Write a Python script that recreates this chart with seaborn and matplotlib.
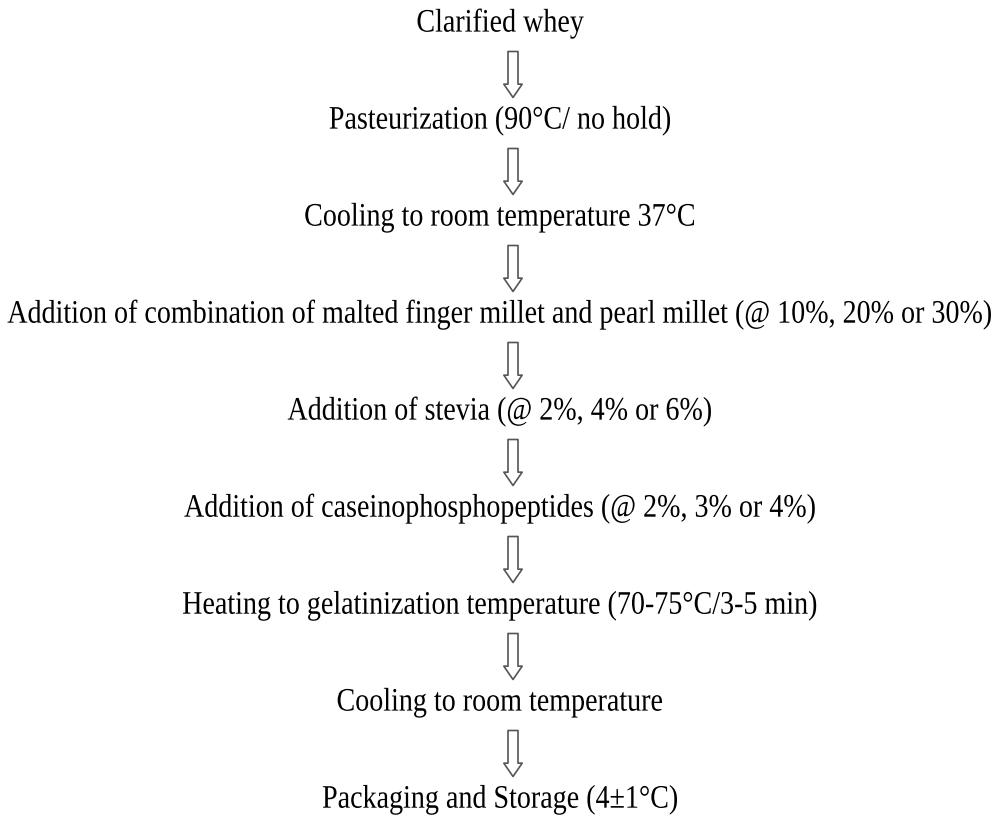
import matplotlib
matplotlib.use("Agg")
import matplotlib.pyplot as plt
import seaborn as sns
from matplotlib.patheffects import AbstractPathEffect
from matplotlib.transforms import Affine2D

# process steps, top to bottom
steps = [
    "Clarified whey",
    "Pasteurization (90\u00b0C/ no hold)",
    "Cooling to room temperature 37\u00b0C",
    "Addition of combination of malted finger millet and pearl millet (@ 10%, 20% or 30%)",
    "Addition of stevia (@ 2%, 4% or 6%)",
    "Addition of caseinophosphopeptides (@ 2%, 3% or 4%)",
    "Heating to gelatinization temperature (70-75\u00b0C/3-5 min)",
    "Cooling to room temperature",
    "Packaging and Storage (4\u00b11\u00b0C)",
]


# the original font looks condensed, so stretch glyphs vertically a bit
class VStretch(AbstractPathEffect):
    def __init__(self, cy, sy):
        super().__init__()
        self.cy = cy
        self.sy = sy

    def draw_path(self, renderer, gc, tpath, affine, rgbFace=None):
        a = affine + Affine2D().translate(0, -self.cy).scale(1, self.sy).translate(0, self.cy)
        renderer.draw_path(gc, tpath, a, rgbFace)


sns.set_theme(style="white")
plt.rcParams['font.family'] = ['Liberation Serif', 'DejaVu Serif']

fig = plt.figure(figsize=(10, 8.16), dpi=100)
ax = fig.add_axes([0, 0, 1, 1])
ax.set_xlim(0, 1000)
ax.set_ylim(816, 0)
ax.axis("off")

top = 24
gap = 97
text_x = 500
arrow_x = 513
arrow_len = 46

for i, s in enumerate(steps):
    y = top + i * gap
    cy = ax.transData.transform((0, y))[1]
    ax.text(text_x, y, s, ha="center", va="center", fontsize=20.2, color="black",
            path_effects=[VStretch(cy, 1.17)])
    if i < len(steps) - 1:
        mid = y + gap / 2 + 2
        ax.annotate("", xy=(arrow_x, mid + arrow_len / 2), xytext=(arrow_x, mid - arrow_len / 2),
                    arrowprops=dict(arrowstyle="simple,head_width=1.1,head_length=0.8,tail_width=0.6",
                                    facecolor="white", edgecolor="#555555", lw=1.2,
                                    shrinkA=0, shrinkB=0))

fig.savefig("out.png", dpi=100)
